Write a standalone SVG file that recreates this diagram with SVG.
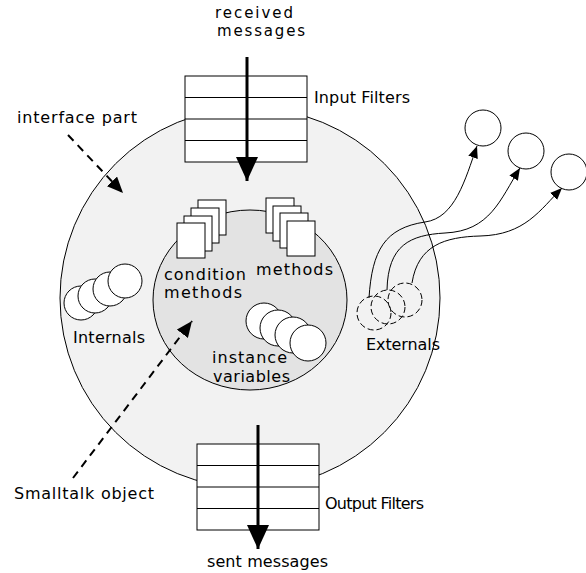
<svg xmlns="http://www.w3.org/2000/svg" width="586" height="573" viewBox="0 0 586 573">
<style>
text{font-family:"DejaVu Sans","Liberation Sans",sans-serif;font-size:16px;fill:#000}
.sm{font-size:15px}
.ln{fill:none;stroke:#000;stroke-width:1}
.wh{fill:#fff;stroke:#000;stroke-width:1}
.dash{fill:none;stroke:#000;stroke-width:2;stroke-dasharray:8 6}
.dc{fill:none;stroke:#000;stroke-width:1;stroke-dasharray:6 3}
.thick{fill:none;stroke:#000;stroke-width:3}
</style>
<defs>
<marker id="ah" viewBox="0 0 12 10" refX="12" refY="5" markerWidth="12" markerHeight="10" markerUnits="userSpaceOnUse" orient="auto">
<path d="M0,0 L12,5 L0,10 Z" fill="#000"/>
</marker>
<marker id="ahd" viewBox="0 0 16 14" refX="16" refY="7" markerWidth="16" markerHeight="14" markerUnits="userSpaceOnUse" orient="auto">
<path d="M0,0 L16,7 L0,14 Z" fill="#000"/>
</marker>
<marker id="ahb" viewBox="0 0 24 22" refX="24" refY="11" markerWidth="24" markerHeight="22" markerUnits="userSpaceOnUse" orient="auto">
<path d="M0,0 L24,11 L0,22 Z" fill="#000"/>
</marker>
</defs>
<g id="outer">
<circle cx="250" cy="298" r="190" fill="#f2f2f2" stroke="#000" stroke-width="1"/>
</g>
<g id="inner">
<ellipse cx="250" cy="300" rx="97" ry="90" fill="#e3e3e3" stroke="#000" stroke-width="1"/>
</g>
<g id="input-filters">
<rect class="wh" x="185" y="76" width="122" height="86"/>
<line class="ln" x1="185" y1="97.5" x2="307" y2="97.5"/>
<line class="ln" x1="185" y1="119" x2="307" y2="119"/>
<line class="ln" x1="185" y1="140.5" x2="307" y2="140.5"/>
<text x="314" y="103" textLength="96">Input Filters</text>
</g>
<g id="output-filters">
<rect class="wh" x="197" y="444" width="122" height="86"/>
<line class="ln" x1="197" y1="465.5" x2="319" y2="465.5"/>
<line class="ln" x1="197" y1="487" x2="319" y2="487"/>
<line class="ln" x1="197" y1="508.5" x2="319" y2="508.5"/>
<text x="325" y="509" textLength="99">Output Filters</text>
</g>
<g id="condition-methods">
<rect class="wh" x="198" y="200" width="28" height="35"/>
<rect class="wh" x="191" y="208" width="28" height="35"/>
<rect class="wh" x="184" y="216" width="28" height="35"/>
<rect class="wh" x="177" y="223" width="28" height="35"/>
<text x="164" y="280" textLength="82">condition</text>
<text x="164" y="298" textLength="78">methods</text>
</g>
<g id="methods">
<rect class="wh" x="266" y="198" width="28" height="35"/>
<rect class="wh" x="273" y="206" width="28" height="35"/>
<rect class="wh" x="280" y="213" width="28" height="35"/>
<rect class="wh" x="287" y="221" width="28" height="35"/>
<text x="256" y="275" textLength="77">methods</text>
</g>
<g id="instance-variables">
<circle class="wh" cx="264" cy="321" r="18"/>
<circle class="wh" cx="278" cy="328" r="18"/>
<circle class="wh" cx="293" cy="335" r="18"/>
<circle class="wh" cx="308" cy="343" r="18"/>
<text x="212" y="363" textLength="75">instance</text>
<text x="213" y="382" textLength="77">variables</text>
</g>
<g id="internals">
<circle class="wh" cx="81" cy="303" r="17"/>
<circle class="wh" cx="95" cy="296" r="17"/>
<circle class="wh" cx="110" cy="289" r="17"/>
<circle class="wh" cx="125" cy="281" r="17"/>
<text x="73" y="343" textLength="72">Internals</text>
</g>
<g id="externals">
<circle class="dc" cx="374" cy="313" r="17"/>
<circle class="dc" cx="388" cy="307" r="17"/>
<circle class="dc" cx="405" cy="300" r="17"/>
<text x="366" y="350" textLength="74">Externals</text>
</g>
<g id="ext1"><circle class="wh" cx="483" cy="128" r="18"/></g>
<g id="ext2"><circle class="wh" cx="526" cy="151" r="18"/></g>
<g id="ext3"><circle class="wh" cx="569" cy="172" r="18"/></g>
<g id="labels">
<text class="sm" x="215" y="18" textLength="78">received</text>
<text class="sm" x="217" y="36" textLength="88">messages</text>
<text x="17" y="123" textLength="120">interface part</text>
<text x="14" y="499" textLength="140">Smalltalk object</text>
<text x="207" y="567" textLength="121">sent messages</text>
</g>
<g id="connectors">
<line class="thick" x1="247" y1="57" x2="247" y2="181" marker-end="url(#ahb)"/>
<line class="thick" x1="258" y1="425" x2="258" y2="549" marker-end="url(#ahb)"/>
<line class="dash" x1="68" y1="135" x2="123" y2="193" marker-end="url(#ahd)"/>
<line class="dash" x1="73" y1="478" x2="192" y2="321" marker-end="url(#ahd)"/>
<path class="ln" d="M369,298 C372,250 385,228 425,222 C455,218 465,180 477,146" marker-end="url(#ah)"/>
<path class="ln" d="M387,290 C388,245 410,235 445,233 C490,231 500,200 520,168" marker-end="url(#ah)"/>
<path class="ln" d="M412,283 C418,245 445,237 480,236 C525,235 540,210 562,188" marker-end="url(#ah)"/>
</g>
</svg>
